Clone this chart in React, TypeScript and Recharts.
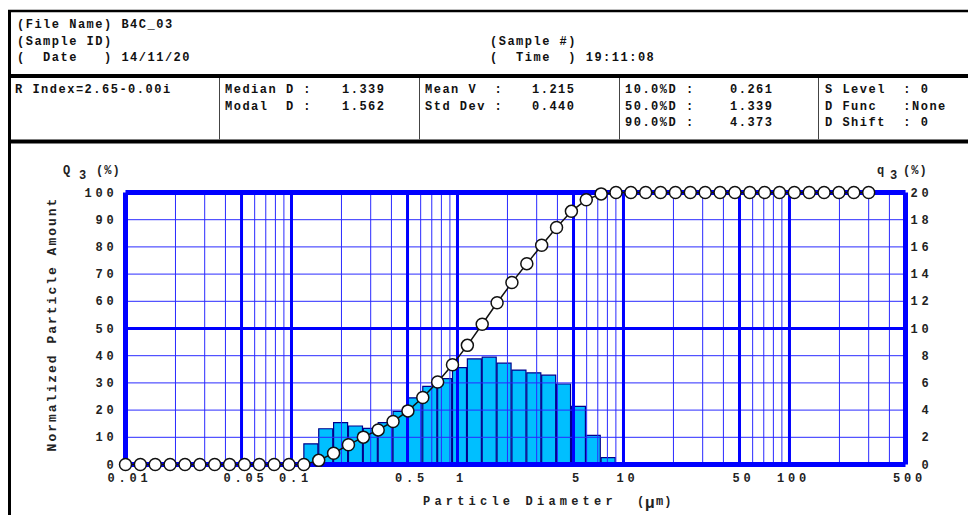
import React from 'react';
import { ComposedChart, LineChart, Line, Bar, XAxis, YAxis, ReferenceLine } from 'recharts';

// Particle size channels (µm), 51 log-spaced points from 0.01 to 300
const diameters = [
  0.01, 0.01229, 0.0151, 0.01856, 0.02282, 0.02804, 0.03446, 0.04235, 0.05206, 0.06398,
  0.07862, 0.0966, 0.1187, 0.1459, 0.1793, 0.2204, 0.2709, 0.3329, 0.4091, 0.5028,
  0.6179, 0.7594, 0.9331, 1.147, 1.409, 1.732, 2.128, 2.616, 3.215, 3.951,
  4.856, 5.968, 7.334, 9.013, 11.08, 13.61, 16.73, 20.56, 25.27, 31.06,
  38.17, 46.91, 57.65, 70.85, 87.07, 107.0, 131.5, 161.6, 198.6, 244.1, 300.0,
];

// Undersize cumulative Q3 (%) at each channel
const cumulative = [
  0, 0, 0, 0, 0, 0, 0, 0, 0, 0,
  0, 0, 0, 1.52, 4.15, 7.23, 10.06, 12.72, 15.8, 19.71,
  24.61, 30.36, 36.68, 43.8, 51.56, 59.45, 66.9, 73.84, 80.58, 87.15,
  93.07, 97.35, 99.49, 100, 100, 100, 100, 100, 100, 100,
  100, 100, 100, 100, 100, 100, 100, 100, 100, 100, 100,
];

// Frequency q3 (%) of the interval that starts at each channel
const frequency = [
  0, 0, 0, 0, 0, 0, 0, 0, 0, 0,
  0, 0, 1.52, 2.63, 3.08, 2.83, 2.66, 3.08, 3.91, 4.9,
  5.75, 6.32, 7.12, 7.76, 7.89, 7.45, 6.94, 6.74, 6.57, 5.92,
  4.28, 2.14, 0.51, 0, 0, 0, 0, 0, 0, 0,
  0, 0, 0, 0, 0, 0, 0, 0, 0, 0, 0,
];

const xTicks = [0.01, 0.05, 0.1, 0.5, 1, 5, 10, 50, 100, 500];
const xTickLabels = ['0.01', '0.05', '0.1', '0.5', '1', '5', '10', '50', '100', '500'];
const leftTicks = [0, 10, 20, 30, 40, 50, 60, 70, 80, 90, 100];
const rightTicks = [0, 2, 4, 6, 8, 10, 12, 14, 16, 18, 20];

const minorX = [
  0.02, 0.03, 0.04, 0.06, 0.07, 0.08, 0.09, 0.2, 0.3, 0.4, 0.6, 0.7, 0.8, 0.9,
  2, 3, 4, 6, 7, 8, 9, 20, 30, 40, 60, 70, 80, 90, 200, 300, 400,
];
const majorX = [0.05, 0.1, 0.5, 1, 5, 10, 50, 100];
const minorY = [10, 20, 30, 40, 60, 70, 80, 90];
const majorY = [50];

// cumulative curve: one point per channel
const curveData = diameters.map((d, i) => ({ d, Q3: cumulative[i] }));

// histogram: one bar per non-empty interval, placed at the interval's geometric centre
const barData = diameters
  .slice(0, -1)
  .map((d, i) => ({ d: Math.sqrt(d * diameters[i + 1]), q: frequency[i] }))
  .filter((b) => b.q > 0);

const BLUE = '#0000ff';
const THIN = '#2a2aff';
const MONO = "'Liberation Mono', 'DejaVu Sans Mono', monospace";

const W = 968;
const H = 515;
const PLOT = { top: 192.5, left: 125.5, right: 62.5, bottom: 50.5 };
const LEFT_W = 60;
const RIGHT_W = 40;
const XAXIS_H = 30;

const chartFont = {
  fontFamily: MONO,
  fontWeight: 700,
  fontSize: 12,
  letterSpacing: 3.8,
  fill: '#222',
};

const headFont: React.CSSProperties = {
  fontFamily: MONO,
  fontWeight: 700,
  fontSize: 12,
  letterSpacing: 1.5,
  fill: '#111',
  whiteSpace: 'pre',
};

const XTick = ({ x, y, payload }: any) => {
  const idx = xTicks.indexOf(payload.value);
  return (
    <text x={x + 4} y={y + 17} textAnchor="middle" {...chartFont}>
      {idx >= 0 ? xTickLabels[idx] : payload.value}
    </text>
  );
};

const LeftTick = ({ x, y, payload }: any) => (
  <text x={x - 8} y={y + 4} textAnchor="end" {...chartFont}>
    {payload.value}
  </text>
);

const RightTick = ({ x, y, payload }: any) => (
  <text x={x + 27} y={y + 4} textAnchor="end" {...chartFont}>
    {payload.value}
  </text>
);

const HText = ({ x, y, children }: any) => (
  <text x={x} y={y} style={headFont}>
    {children}
  </text>
);

const Header = () => (
  <svg width={W} height={H} style={{ position: 'absolute', left: 0, top: 0 }}>
    {/* frame */}
    <line x1={9.5} y1={10} x2={9.5} y2={515} stroke="#000" strokeWidth={3} />
    <line x1={8} y1={11} x2={968} y2={11} stroke="#000" strokeWidth={2.5} />
    <line x1={8} y1={76} x2={968} y2={76} stroke="#000" strokeWidth={4} />
    <line x1={8} y1={141.5} x2={968} y2={141.5} stroke="#000" strokeWidth={4} />
    {[219.5, 419.5, 619.5, 818.5].map((x) => (
      <line key={x} x1={x} y1={78} x2={x} y2={139.5} stroke="#444" strokeWidth={1} />
    ))}

    <HText x={17} y={28}>(File Name) B4C_03</HText>
    <HText x={17} y={45}>(Sample ID)</HText>
    <HText x={17} y={61}>(  Date   ) 14/11/20</HText>
    <HText x={490} y={45}>(Sample #)</HText>
    <HText x={490} y={61}>(  Time  ) 19:11:08</HText>

    <HText x={15} y={92.5}>R Index=2.65-0.00i</HText>
    <HText x={225} y={92.5}>Median D :</HText>
    <HText x={342} y={92.5}>1.339</HText>
    <HText x={225} y={109.5}>Modal  D :</HText>
    <HText x={342} y={109.5}>1.562</HText>
    <HText x={425} y={92.5}>Mean V  :</HText>
    <HText x={532} y={92.5}>1.215</HText>
    <HText x={425} y={109.5}>Std Dev :</HText>
    <HText x={532} y={109.5}>0.440</HText>
    <HText x={625} y={92.5}>10.0%D :</HText>
    <HText x={730} y={92.5}>0.261</HText>
    <HText x={625} y={109.5}>50.0%D :</HText>
    <HText x={730} y={109.5}>1.339</HText>
    <HText x={625} y={125.5}>90.0%D :</HText>
    <HText x={730} y={125.5}>4.373</HText>
    <HText x={825} y={92.5}>S Level  : 0</HText>
    <HText x={825} y={109.5}>D Func   :None</HText>
    <HText x={825} y={125.5}>D Shift  : 0</HText>

    {/* axis titles */}
    <text x={63} y={174} {...chartFont} letterSpacing={0}>Q</text>
    <text x={79} y={179} {...chartFont} letterSpacing={0}>3</text>
    <text x={96} y={174} {...chartFont} letterSpacing={1}>(%)</text>
    <text x={877} y={174} {...chartFont} letterSpacing={0}>q</text>
    <text x={890} y={179} {...chartFont} letterSpacing={0}>3</text>
    <text x={903} y={174} {...chartFont} letterSpacing={1}>(%)</text>

    <text
      transform="translate(56, 324) rotate(-90)"
      textAnchor="middle"
      {...chartFont}
      fontSize={13}
      letterSpacing={2}
    >
      Normalized Particle Amount
    </text>
    <text x={423} y={505} {...chartFont} letterSpacing={4.2}>Particle Diameter</text>
    <text x={637} y={505} {...chartFont} letterSpacing={0}>(</text>
    <text x={645} y={508} {...chartFont} fontSize={16} letterSpacing={0}>μ</text>
    <text x={656} y={505} {...chartFont} letterSpacing={1}>m)</text>
  </svg>
);

// Bottom layer: axes, log grid and the q3 histogram
const HistogramLayer = () => (
  <ComposedChart
    width={W}
    height={H}
    data={barData}
    barCategoryGap={0}
    barGap={0}
    margin={{
      top: PLOT.top,
      left: PLOT.left - LEFT_W,
      right: PLOT.right - RIGHT_W,
      bottom: PLOT.bottom - XAXIS_H,
    }}
  >
    <XAxis
      dataKey="d"
      type="number"
      scale="log"
      domain={[0.01, 500]}
      ticks={xTicks}
      allowDataOverflow
      height={XAXIS_H}
      tickSize={0}
      tickMargin={0}
      tickLine={false}
      axisLine={{ stroke: BLUE, strokeWidth: 5 }}
      tick={<XTick />}
      interval={0}
    />
    <YAxis
      yAxisId="left"
      type="number"
      domain={[0, 100]}
      allowDataOverflow
      ticks={leftTicks}
      width={LEFT_W}
      tickSize={0}
      tickMargin={0}
      tickLine={false}
      axisLine={{ stroke: BLUE, strokeWidth: 5 }}
      tick={<LeftTick />}
      interval={0}
    />
    <YAxis
      yAxisId="right"
      type="number"
      orientation="right"
      domain={[0, 20]}
      allowDataOverflow
      ticks={rightTicks}
      width={RIGHT_W}
      tickSize={0}
      tickMargin={0}
      tickLine={false}
      axisLine={{ stroke: BLUE, strokeWidth: 5 }}
      tick={<RightTick />}
      interval={0}
    />
    {minorX.map((v) => (
      <ReferenceLine key={`mx${v}`} yAxisId="left" x={v} stroke={THIN} strokeWidth={1} />
    ))}
    {minorY.map((v) => (
      <ReferenceLine key={`my${v}`} yAxisId="left" y={v} stroke={THIN} strokeWidth={1} />
    ))}
    {majorX.map((v) => (
      <ReferenceLine key={`Mx${v}`} yAxisId="left" x={v} stroke={BLUE} strokeWidth={3} />
    ))}
    {majorY.map((v) => (
      <ReferenceLine key={`My${v}`} yAxisId="left" y={v} stroke={BLUE} strokeWidth={3} />
    ))}
    <ReferenceLine yAxisId="left" y={100} stroke={BLUE} strokeWidth={5} />
    <Bar
      yAxisId="right"
      dataKey="q"
      barSize={14}
      fill="#00bfff"
      stroke="#00008b"
      strokeWidth={1.2}
      isAnimationActive={false}
    />
  </ComposedChart>
);

// Top layer: cumulative Q3 curve with open circles, same plot box
const CurveLayer = () => (
  <LineChart width={W} height={H} data={curveData} margin={PLOT}>
    <XAxis dataKey="d" type="number" scale="log" domain={[0.01, 500]} hide />
    <YAxis type="number" domain={[0, 100]} hide />
    <Line
      dataKey="Q3"
      stroke="#111"
      strokeWidth={1.5}
      dot={{ r: 6, fill: '#fff', stroke: '#111', strokeWidth: 1.5, clipDot: false }}
      isAnimationActive={false}
    />
  </LineChart>
);

export default function App() {
  return (
    <div style={{ position: 'absolute', left: 0, top: 0, width: W, height: H, background: '#fff' }}>
      <Header />
      <div style={{ position: 'absolute', left: 0, top: 0 }}>
        <HistogramLayer />
      </div>
      <div style={{ position: 'absolute', left: 0, top: 0 }}>
        <CurveLayer />
      </div>
    </div>
  );
}
